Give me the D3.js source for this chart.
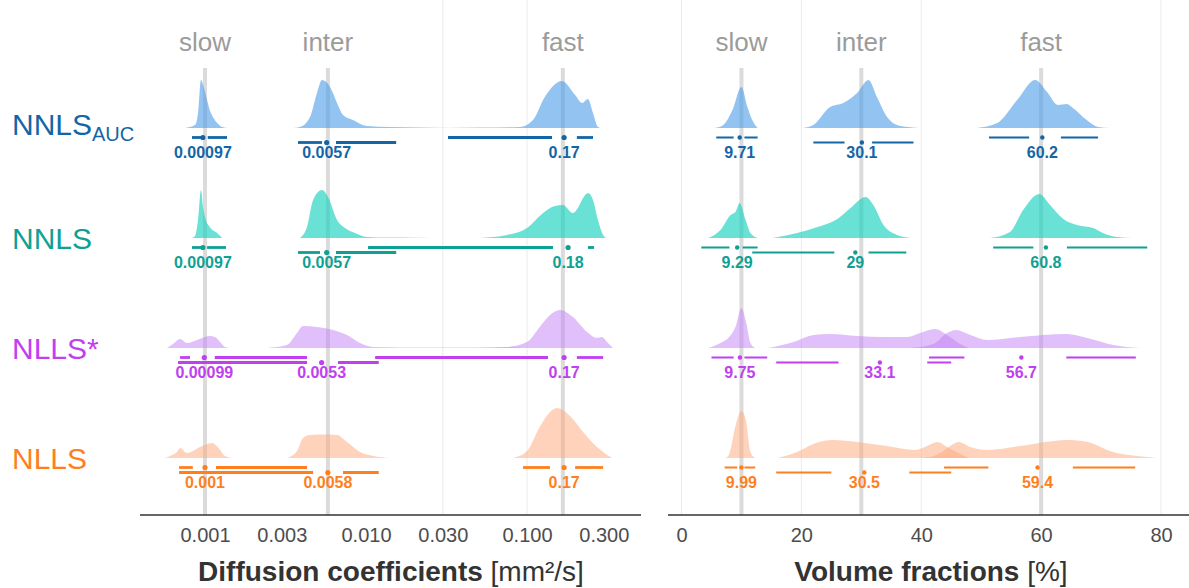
<!DOCTYPE html>
<html><head><meta charset="utf-8">
<script src="https://cdn.jsdelivr.net/npm/d3@7/dist/d3.min.js"></script>
<style>
html,body{margin:0;padding:0;background:#fff;}
svg{display:block;font-family:"Liberation Sans",Arial,Helvetica,sans-serif;}
</style></head>
<body><svg id="chart" width="1189" height="588"></svg>
<script>
// ---------------- DATA ----------------
const methods = ["NNLS_AUC", "NNLS", "NLLS*", "NLLS"];
const components = ["slow", "inter", "fast"];
const refD = [0.001, 0.0058, 0.167];      // reference diffusion coefficients
const refF = [10, 30, 60];                // reference volume fractions
const dTicks = [0.001, 0.003, 0.01, 0.03, 0.1, 0.3];
const dTickLabels = ["0.001", "0.003", "0.010", "0.030", "0.100", "0.300"];
const fTicks = [0, 20, 40, 60, 80];
const dGrid = [0.03, 0.1];
const fGrid = [0, 20, 40, 80];

// densities: [value, relative density]
const densD_NNLSAUC = [
  [[0.000752,0],[0.000867,0.06],[0.000905,0.30],[0.000944,0.96],[0.000986,0.80],[0.00103,0.56],[0.00107,0.36],[0.00112,0.22],[0.00119,0.10],[0.00128,0.02],[0.00139,0]],
  [[0.00352,0],[0.00389,0.02],[0.00449,0.22],[0.00496,0.70],[0.00533,0.96],[0.00598,0.82],[0.00661,0.50],[0.0072,0.26],[0.0083,0.16],[0.0101,0.04],[0.0141,0.02],[0.0216,0.01],[0.0332,0]],
  [[0.0288,0],[0.0511,0.01],[0.0905,0.02],[0.109,0.16],[0.129,0.62],[0.165,0.94],[0.199,0.66],[0.220,0.50],[0.239,0.58],[0.257,0.30],[0.276,0.02],[0.288,0]]
];
const densD_NNLS = [
  [[0.00083,0],[0.000867,0.04],[0.000905,0.36],[0.000944,0.96],[0.000972,0.62],[0.001,0.42],[0.00107,0.22],[0.00119,0.10],[0.00128,0]],
  [[0.00389,0],[0.0043,0.22],[0.00469,0.76],[0.00533,0.96],[0.00581,0.82],[0.00661,0.36],[0.00741,0.20],[0.00855,0.10],[0.0101,0.02],[0.0117,0.01],[0.0163,0.01],[0.0261,0]],
  [[0.0511,0],[0.0751,0.06],[0.1,0.20],[0.126,0.50],[0.149,0.64],[0.167,0.66],[0.193,0.50],[0.207,0.60],[0.223,0.80],[0.239,0.90],[0.257,0.76],[0.276,0.36],[0.297,0.06],[0.310,0]]
];
const densD_NLLSs = [
  [[0.000581,0],[0.000633,0.08],[0.0007,0.18],[0.000773,0.10],[0.000892,0.16],[0.001,0.22],[0.00107,0.24],[0.00115,0.22],[0.00124,0.12],[0.00133,0.02],[0.00143,0]],
  [[0.00243,0],[0.00323,0.06],[0.00373,0.30],[0.00406,0.44],[0.00496,0.42],[0.00624,0.36],[0.00762,0.26],[0.00918,0.10],[0.0111,0.02],[0.0163,0.01],[0.0332,0.01],[0.068,0.016],[0.0945,0]],
  [[0.0511,0],[0.0751,0.02],[0.1,0.12],[0.120,0.42],[0.139,0.66],[0.160,0.76],[0.193,0.62],[0.236,0.32],[0.272,0.20],[0.292,0.22],[0.314,0.12],[0.342,0]]
];
const densD_NLLS = [
  [[0.000564,0],[0.000624,0.06],[0.00067,0.12],[0.0007,0.20],[0.000773,0.10],[0.000931,0.22],[0.0011,0.30],[0.0012,0.22],[0.00133,0.04],[0.00147,0]],
  [[0.00323,0],[0.00373,0.14],[0.00406,0.40],[0.00449,0.46],[0.0054,0.47],[0.00661,0.46],[0.00762,0.32],[0.00918,0.12],[0.0111,0.04],[0.0141,0]],
  [[0.0819,0],[0.1,0.14],[0.120,0.62],[0.139,0.92],[0.154,1.0],[0.185,0.84],[0.223,0.52],[0.272,0.22],[0.297,0.12],[0.337,0]]
];
const densF_NNLSAUC = [
  [[5.3,0],[6.3,0.02],[7.3,0.10],[8.5,0.36],[10,0.82],[11,0.42],[11.8,0.16],[12.7,0]],
  [[20.3,0],[22,0.06],[24.8,0.42],[27,0.50],[29.3,0.70],[31.2,0.96],[32.6,0.62],[34.3,0.22],[36.5,0.04],[39.8,0]],
  [[49.3,0],[52.7,0.10],[56,0.56],[59,0.96],[61,0.72],[62.8,0.46],[64.3,0.48],[65.3,0.40],[67.6,0.16],[69.5,0.02],[71.5,0]]
];
const densF_NNLS = [
  [[4.5,0],[6.5,0.16],[8.2,0.46],[9,0.52],[9.7,0.70],[10.7,0.36],[11.5,0.10],[12.7,0]],
  [[15.2,0],[19.3,0.10],[22.7,0.22],[26,0.38],[28.2,0.60],[30.7,0.82],[32,0.66],[33.7,0.26],[36,0.06],[38.2,0]],
  [[51.5,0],[54.8,0.12],[57,0.56],[59.7,0.88],[61.5,0.66],[63.7,0.38],[66,0.26],[68.7,0.20],[70.3,0.10],[72.7,0.02],[75.3,0]]
];
const densF_NLLSs = [
  [[4.5,0],[6.5,0.10],[7.8,0.20],[9,0.42],[10,0.80],[10.8,0.50],[11.5,0.10],[12.3,0]],
  [[14.5,0],[18.7,0.12],[22,0.26],[24.8,0.28],[29.3,0.24],[33.7,0.22],[37.7,0.22],[39.8,0.30],[42.3,0.38],[44.3,0.26],[46.5,0.08],[48,0]],
  [[38.2,0],[42,0.08],[44.3,0.30],[45.8,0.36],[48.2,0.26],[51,0.16],[56.5,0.22],[64.3,0.28],[67.7,0.20],[72,0.06],[76.5,0]]
];
const densF_NLLS = [
  [[7.3,0],[7.8,0.04],[8.2,0.18],[9,0.64],[10,0.94],[10.7,0.78],[11.5,0.12],[12.3,0]],
  [[16,0],[19.3,0.12],[22,0.28],[25.3,0.36],[29.3,0.32],[34.3,0.24],[39,0.16],[41,0.24],[42.7,0.32],[44.3,0.22],[46.5,0.08],[48,0]],
  [[40.3,0],[43.2,0.10],[44.8,0.24],[46.2,0.32],[48.2,0.22],[51,0.16],[56.5,0.24],[64.3,0.36],[67.7,0.32],[72,0.12],[76,0.04],[79.3,0]]
];

// intervals: [lower, lowerInner, median, upperInner, upper, level]
const intD_NNLSAUC = [[0.00083,0.00096,0.00097,0.00104,0.00137,0],[0.00378,0.00533,0.0057,0.00651,0.0154,1],[0.0323,0.143,0.17,0.204,0.257,0]];
const intD_NNLS    = [[0.00083,0.00095,0.00097,0.00103,0.00135,0],[0.00378,0.00518,0.0057,0.00651,0.0154,1],[0.0103,0.145,0.18,0.239,0.261,0]];
const intD_NLLSs   = [[0.0007,0.000807,0.00099,0.00115,0.0043,0],[0.00068,0.0043,0.0053,0.0067,0.012,1],[0.0114,0.135,0.17,0.204,0.297,0]];
const intD_NLLS    = [[0.00069,0.00084,0.001,0.00117,0.0043,0],[0.00069,0.00469,0.0058,0.0072,0.012,1],[0.0945,0.139,0.17,0.199,0.297,0]];
const intF_NNLSAUC = [[5.8,8.7,9.71,10.5,12.7,0],[22,27.2,30.1,31.8,38.7,1],[51.3,58,60.2,63.3,69.5,0]];
const intF_NNLS    = [[3.3,8,9.29,10.2,12.7,0],[11.8,25.5,29,31.2,37.5,1],[52,58.7,60.8,64.3,77.7,0]];
const intF_NLLSs   = [[5,8.7,9.75,10.5,14.3,0],[15.8,26.2,33.1,41,45,1],[41.3,47.2,56.7,64.2,75.8,0]];
const intF_NLLS    = [[7.2,9.3,9.99,10.5,12.3,0],[15.8,25,30.5,38,45,1],[43.8,51.2,59.4,65.3,75.7,0]];

const densD = [densD_NNLSAUC, densD_NNLS, densD_NLLSs, densD_NLLS];
const densF = [densF_NNLSAUC, densF_NNLS, densF_NLLSs, densF_NLLS];
const intD = [intD_NNLSAUC, intD_NNLS, intD_NLLSs, intD_NLLS];
const intF = [intF_NNLSAUC, intF_NNLS, intF_NLLSs, intF_NLLS];

// ---------------- STYLE ----------------
const fillColors = ["#4a9be8", "#1ad1be", "#c27ff5", "#ffa67a"];
const fillOpacity = [0.6, 0.65, 0.5, 0.5];
const textColors = ["#1366a6", "#0ea193", "#c040f0", "#ff7f1e"];

const svg = d3.select("#chart");
const xD = d3.scaleLog().domain([0.001, 0.01]).range([205, 366]);
const xF = d3.scaleLinear().domain([0, 80]).range([681.5, 1161]);
const yRow = d3.scalePoint().domain(methods).range([128, 458]);
const hScale = d3.scaleLinear().domain([0, 1]).range([0, 50]);
const levelOff = [9.5, 14.5];
const axisY = 515;

const panels = [
  {x: xD, dens: densD, ints: intD, refs: refD, grid: dGrid, lw: 2.8, r: 2.6, x0: 140, x1: 641},
  {x: xF, dens: densF, ints: intF, refs: refF, grid: fGrid, lw: 2.0, r: 2.2, x0: 668, x1: 1189}
];

panels.forEach(p => {
  svg.append("g").selectAll("line").data(p.grid).join("line")
    .attr("x1", d => p.x(d)).attr("x2", d => p.x(d))
    .attr("y1", 0).attr("y2", axisY)
    .attr("stroke", "#ebebeb").attr("stroke-width", 1);
  svg.append("g").selectAll("line").data(p.refs).join("line")
    .attr("x1", d => p.x(d)).attr("x2", d => p.x(d))
    .attr("y1", 68).attr("y2", axisY)
    .attr("stroke", "#c8c8c8").attr("stroke-opacity", 0.65).attr("stroke-width", 4);
  svg.append("g").selectAll("text").data(p.refs).join("text")
    .attr("x", d => p.x(d)).attr("y", 51)
    .attr("text-anchor", "middle").attr("font-size", 26).attr("fill", "#9b9b9b")
    .text((d, i) => components[i]);

  methods.forEach((m, mi) => {
    const base = yRow(m);
    const area = d3.area()
      .x(d => p.x(d[0])).y0(base).y1(d => base - hScale(d[1]))
      .curve(d3.curveMonotoneX);
    svg.append("g").selectAll("path").data(p.dens[mi]).join("path")
      .attr("d", area)
      .attr("fill", fillColors[mi]).attr("fill-opacity", fillOpacity[mi]);
    const ig = svg.append("g").attr("stroke", textColors[mi]).attr("stroke-width", p.lw);
    p.ints[mi].forEach(iv => {
      const yy = base + levelOff[iv[5]];
      ig.append("line").attr("x1", p.x(iv[0])).attr("x2", p.x(iv[1])).attr("y1", yy).attr("y2", yy);
      ig.append("line").attr("x1", p.x(iv[3])).attr("x2", p.x(iv[4])).attr("y1", yy).attr("y2", yy);
      svg.append("circle").attr("cx", p.x(iv[2])).attr("cy", yy).attr("r", p.r).attr("fill", textColors[mi]);
      svg.append("text").attr("x", p.x(iv[2])).attr("y", base + 30)
        .attr("text-anchor", "middle").attr("font-size", 16).attr("font-weight", "bold")
        .attr("fill", textColors[mi]).text(String(iv[2]));
    });
  });

  svg.append("line").attr("x1", p.x0).attr("x2", p.x1).attr("y1", axisY).attr("y2", axisY)
    .attr("stroke", "#333").attr("stroke-width", 1.5);
});

const axD = d3.axisBottom(xD).tickValues(dTicks).tickFormat((d, i) => dTickLabels[i]).tickSize(0).tickPadding(13);
const axF = d3.axisBottom(xF).tickValues(fTicks).tickFormat(d3.format("d")).tickSize(0).tickPadding(13);
[axD, axF].forEach(ax => {
  const g = svg.append("g").attr("transform", `translate(0,${axisY})`).call(ax);
  g.select(".domain").remove();
  g.selectAll("text").attr("font-size", 20).attr("fill", "#4d4d4d")
    .attr("font-family", '"Liberation Sans",Arial,sans-serif');
});

const t1 = svg.append("text").attr("x", 391).attr("y", 581).attr("text-anchor", "middle")
  .attr("font-size", 28).attr("fill", "#333");
t1.append("tspan").attr("font-weight", "bold").text("Diffusion coefficients ");
t1.append("tspan").text("[mm²/s]");
const t2 = svg.append("text").attr("x", 931).attr("y", 581).attr("text-anchor", "middle")
  .attr("font-size", 28).attr("fill", "#333");
t2.append("tspan").attr("font-weight", "bold").text("Volume fractions ");
t2.append("tspan").text("[%]");

methods.forEach((m, mi) => {
  const base = yRow(m);
  const t = svg.append("text").attr("x", 12).attr("font-size", 30).attr("fill", textColors[mi]);
  if (m === "NNLS_AUC") {
    t.attr("y", base + 7);
    t.append("tspan").text("NNLS");
    t.append("tspan").attr("font-size", 20).attr("dy", 6).text("AUC");
  } else {
    t.attr("y", base + 11).text(m);
  }
});
</script>
</body></html>
